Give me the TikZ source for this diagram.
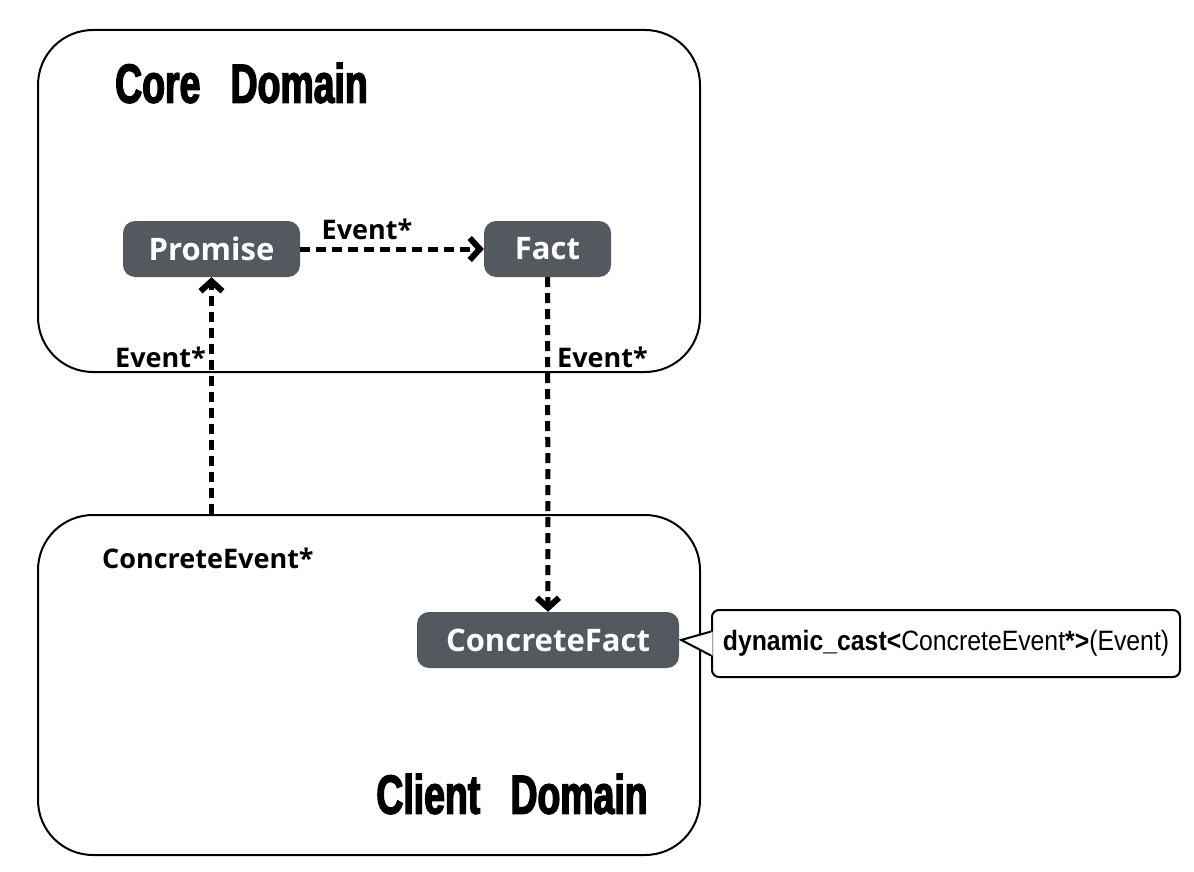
\documentclass[tikz,border=0pt]{standalone}
\usepackage{fontspec}
\setmainfont{Open Sans}
\newfontfamily\titlefont[FakeStretch=0.68,FakeBold=2.5]{Liberation Sans}
\newfontfamily\castfont[FakeStretch=0.885]{Liberation Sans}
\usetikzlibrary{%
    arrows.meta,
    calc,
    positioning
}
\definecolor{nodegray}{RGB}{84,88,95}
\tikzset{headarrow/.style = {-{Straight Barb[length=10pt,width=22pt,line width=6pt 0 1,line cap=butt,line join=miter]}}}
\tikzset{move/.style = {line width=5pt,dash pattern=on 10pt off 6pt,headarrow}}

\begin{document}
\begin{tikzpicture}[x=1pt,y=-1pt,
    domainbox/.style = {draw,line width=2pt,rounded corners=55pt,minimum width=662pt,minimum height=342pt},
    domaintitle/.style = {font=\titlefont\bfseries\fontsize{55}{55}\selectfont,inner sep=0pt},
    classbox/.style = {fill=nodegray,text=white,rounded corners=12pt,minimum height=56pt,inner sep=0pt,
                  font=\bfseries\fontsize{31}{31}\selectfont},
    lbl/.style = {font=\bfseries\fontsize{27}{27}\selectfont,inner sep=0pt},
    castbox/.style = {draw,line width=2pt,fill=white,rounded corners=7pt,minimum width=468pt,minimum height=67pt,
                      font=\castfont\fontsize{28}{28}\selectfont}]
    \useasboundingbox (0,0) rectangle (1194,872);

    % the two domains
    \node       (core)   [domainbox] at (369,201) {};
    \node       (client) [domainbox,minimum height=340pt] at (369,685) {};
    \node       (coreTitle)   [domaintitle] at (241.5,83)  {Core\hspace{0.55em}Domain};
    \node       (clientTitle) [domaintitle] at (512,794) {Client\hspace{0.55em}Domain};

    % classes
    \node       (promise) [classbox,minimum width=177pt] at (211.5,249) {Promise};
    \node       (fact)    [classbox,minimum width=127pt] at (547.5,249) {Fact};
    \node       (cfact)   [classbox,minimum width=262pt] at (548,640)   {ConcreteFact};
    \coordinate (ceOut) at (client.north -| promise.south);

    \foreach \Source/\Target in {ceOut/promise, promise/fact, fact/cfact}
        \draw[move] (\Source) to (\Target);

    \node       (lblFact)    [lbl] at (367,229) {Event*};
    \node       (lblPromise) [lbl,anchor=east] at (206,357) {Event*};
    \node       (lblCfact)   [lbl,anchor=west] at (557,357) {Event*};
    \node       (lblCevent)  [lbl,anchor=west] at (102,558) {ConcreteEvent*};

    % the cast note
    \node       (cast) [castbox] at (946,643.5)
        {\textbf{dynamic\_cast<}ConcreteEvent\textbf{*>}(Event)};
    \coordinate (tip) at ([xshift=2pt]cfact.east);
    \fill[white] ([yshift=-12pt,xshift=1.5pt]cast.west) -- (tip) -- ([yshift=12pt,xshift=1.5pt]cast.west) -- cycle;
    \draw[line width=2pt,line join=miter] (cast.west |- 0,631.5) -- (tip) -- (cast.west |- 0,655.5);
\end{tikzpicture}
\end{document}
